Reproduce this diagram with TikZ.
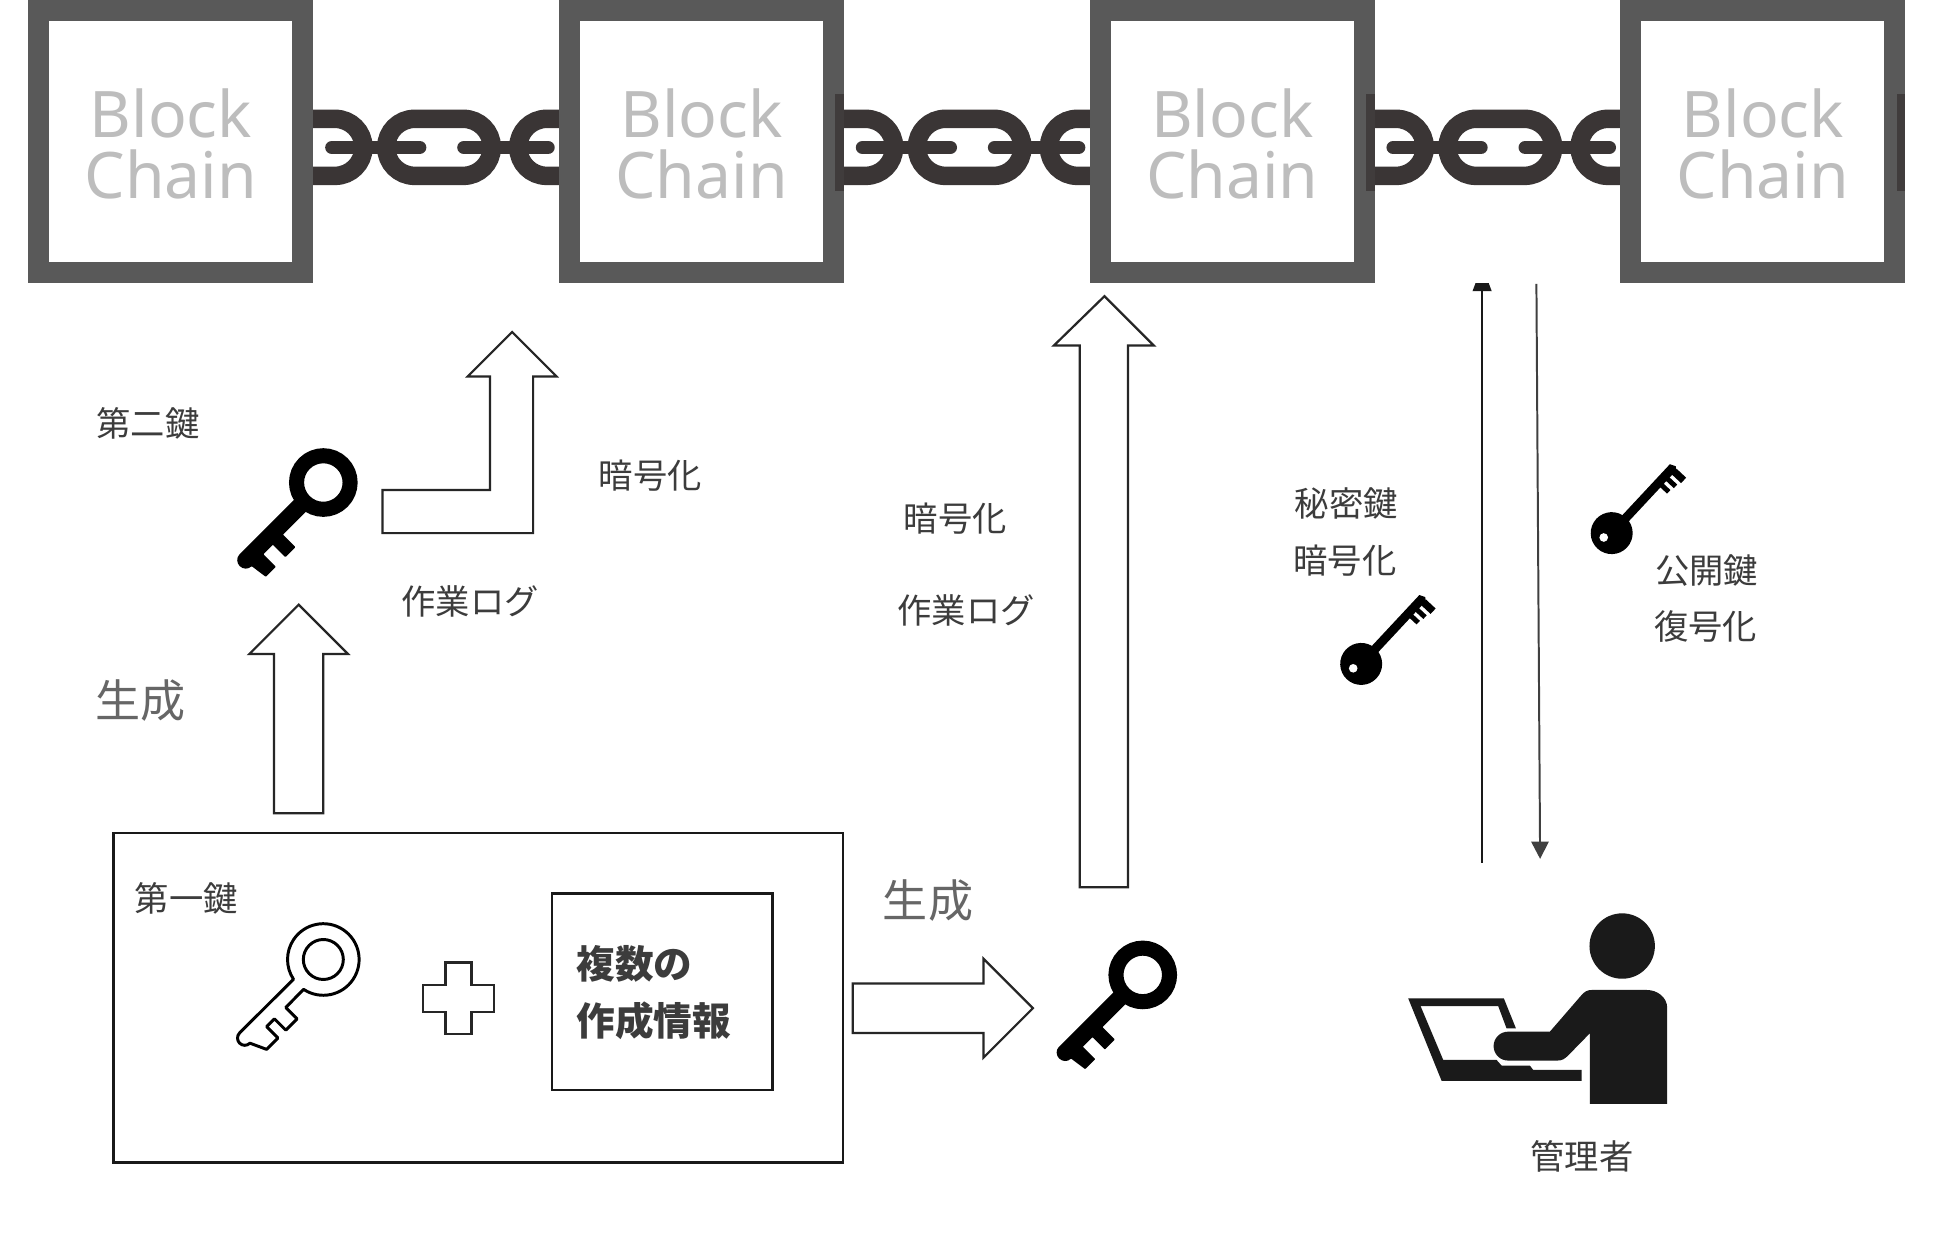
\documentclass[tikz,border=0pt]{standalone}
\usepackage{fontspec}
\setmainfont{Noto Sans}
\newfontfamily\cjk{Noto Sans CJK JP}
\usetikzlibrary{arrows.meta}
\definecolor{blockgray}{HTML}{595959}
\definecolor{chaindark}{HTML}{3A3535}
\definecolor{labeltxt}{HTML}{3C3C3C}
\definecolor{persondark}{HTML}{1A1A1A}
\newcommand{\blocktext}{\rule{0pt}{43.5pt}Block\\Chain}
\tikzset{
  blockbox/.style={draw=blockgray,line width=17pt,fill=white,minimum width=214pt,minimum height=212pt,inner sep=0pt,align=center,text=black!26,font=\fontsize{52}{49}\selectfont},
  lab/.style={inner sep=0pt,text=labeltxt,font=\cjk\fontsize{27.8}{28}\selectfont},
  biglab/.style={inner sep=0pt,text=black!60,font=\cjk\fontsize{36.5}{37}\selectfont},
  boldlab/.style={inner sep=0pt,text=labeltxt,font=\cjk\bfseries\fontsize{31.3}{32}\selectfont},
  hollow/.style={draw=black!85,line width=1.8pt,fill=white,line join=miter},
  framebox/.style={draw=black!90,line width=1.8pt,fill=white,inner sep=0pt},
  thinup/.style={draw=black!90,line width=2.2pt,-{Triangle[length=21pt,width=15pt]}},
  thindown/.style={draw=black!75,line width=1.6pt,-{Triangle[length=14pt,width=14pt]}},
  solidkey/.pic={
    \begin{scope}[y=1pt]
      \draw[black,line width=12.2pt] (0,0) circle[radius=21.7];
      \fill[black,rounded corners=0.5pt] (26,-6.8) -- (89,-6.8) arc[start angle=-90,end angle=90,radius=6.8]
        -- (87,21) -- (75.5,21) -- (75.5,6.8) -- (64.5,6.8) -- (64.5,21) -- (53,21) -- (53,6.8) -- (26,6.8) -- cycle;
    \end{scope}
  },
  outlinekey/.pic={
    \begin{scope}[y=1pt]
      \draw[black,line width=2.4pt,fill=white,line join=round] (11.5:29) arc[start angle=11.5,end angle=348.5,radius=29]
        -- (90,-5.9) arc[start angle=-90,end angle=90,radius=5.9]
        -- (84,19) -- (71,19) -- (71,6) -- (62,6) -- (62,19) -- (49,19) -- (49,6) -- cycle;
      \draw[black,line width=2.4pt] (0,0) circle[radius=16.2];
    \end{scope}
  },
  bowkey/.pic={
    \begin{scope}[y=1pt]
      \fill[black] (0,0) ellipse[x radius=17,y radius=17];
      \fill[black] (10,-3.6) -- (73,-3.6) -- (75,-1) -- (73,3.6) -- (10,3.6) -- cycle;
      \fill[black] (54,-3) rectangle (58,-11) (61,-3) rectangle (65,-12) (68,-3) rectangle (74,-13.5);
      \fill[white] (-7,2.3) circle[radius=3.5];
    \end{scope}
  }
}
\begin{document}
\begin{tikzpicture}[x=1pt,y=-1pt]
\useasboundingbox (0,0) rectangle (1568,1017);
\fill[white] (0,0) rectangle (1568,1017);
% chains
\foreach \dx in {0,430,860}{
  \begin{scope}[xshift=\dx pt]
    \clip (250,80) rectangle (456,160);
    \draw[chaindark,line width=15pt,rounded corners=23pt] (313,96.3) rectangle (398.5,142.5);
    \draw[chaindark,line width=15pt,rounded corners=23pt] (200,96.3) rectangle (294.5,142.5);
    \draw[chaindark,line width=15pt,rounded corners=23pt] (420,96.3) rectangle (515,142.5);
    \draw[chaindark,line width=11pt,line cap=round] (269,119.5) -- (340,119.5);
    \draw[chaindark,line width=11pt,line cap=round] (376,119.5) -- (444,119.5);
  \end{scope}
}
% blocks
\node[blockbox] (b1) at (138.5,114.5) {\blocktext};
\node[blockbox] (b2) at (568.5,114.5) {\blocktext};
\node[blockbox] (b3) at (998.5,114.5) {\blocktext};
\node[blockbox] (b4) at (1428.5,114.5) {\blocktext};
\foreach \sx in {677,1107,1537}{
  \fill[chaindark!80!blockgray] (\sx,76) rectangle (\sx+7,155);
}
% big arrows
\draw[hollow] (222,659) -- (222,530) -- (202,530) -- (242,490) -- (282,530) -- (262,530) -- (262,659) -- cycle;
\draw[hollow] (310,397) -- (397,397) -- (397,305) -- (379,305) -- (415,269) -- (451,305) -- (432,305) -- (432,432) -- (310,432) -- cycle;
\draw[hollow] (875,719) -- (875,280) -- (854,280) -- (895,240) -- (935,280) -- (914,280) -- (914,719) -- cycle;
\draw[hollow] (691,797) -- (797,797) -- (797,777) -- (837,817) -- (797,857) -- (797,837) -- (691,837) -- cycle;
% thin arrows
\coordinate (upA) at (1201,699);
\coordinate (upB) at (1201,215);
\coordinate (dnA) at (1245,230);
\coordinate (dnB) at (1248,696);
\begin{scope}
  \clip (1180,229.5) rectangle (1270,720);
  \draw[thinup] (upA) -- (upB);
  \draw[thindown] (dnA) -- (dnB);
\end{scope}
% frame
\node[framebox,minimum width=591pt,minimum height=267pt] (frame) at (387.5,808.5) {};
\node[framebox,minimum width=179pt,minimum height=159pt] (info) at (536.5,803.5) {};
% plus
\draw[hollow] (361,780) -- (382,780) -- (382,798) -- (400,798) -- (400,820) -- (382,820) -- (382,838) -- (361,838) -- (361,820) -- (343,820) -- (343,798) -- (361,798) -- cycle;
% keys
\pic[rotate=225] at (262,391) {solidkey};
\pic[rotate=225] at (926,790) {solidkey};
\pic[rotate=225] at (262,777.5) {outlinekey};
\pic[rotate=47] at (1306,432) {bowkey};
\pic[rotate=47] at (1103,538) {bowkey};
% person
\fill[persondark] (1314.5,766.6) circle[radius=26.5];
\fill[persondark] (1288.3,894.5) -- (1351,894.5) -- (1351,817) .. controls (1351,808) and (1343,802.2) .. (1334.2,802.2) -- (1290,802.2) .. controls (1286,802.2) and (1284,803.5) .. (1281,807) -- (1255.9,836) -- (1222,836) arc[start angle=-90,end angle=-270,radius=11.7] -- (1262,859.4) .. controls (1266,859.4) and (1268,858) .. (1271,855) -- (1288.3,837.3) -- cycle;
\fill[persondark] (1141.1,809) -- (1218.6,809) -- (1228.4,833.3) -- (1220.8,833.3) -- (1214,815.2) -- (1151.1,815.2) -- (1169.5,858.9) -- (1212.7,858.9) -- (1216.8,863.5) -- (1239.7,863.5) -- (1242.4,867) -- (1281.6,867) -- (1281.6,875.9) -- (1168.2,875.9) -- cycle;
% labels
\node[lab] (t1) at (120,343) {第二鍵};
\node[lab] (t2) at (527,385) {暗号化};
\node[lab] (t3) at (381,487) {作業ログ};
\node[biglab] (t4) at (114,568) {生成};
\node[lab] (t5) at (151,728) {第一鍵};
\node[biglab] (t6) at (752,730) {生成};
\node[lab] (t7) at (774,420) {暗号化};
\node[lab] (t8) at (783,495) {作業ログ};
\node[lab] (t9) at (1091,408) {秘密鍵};
\node[lab] (t10) at (1090,454) {暗号化};
\node[lab] (t11) at (1383,462) {公開鍵};
\node[lab] (t12) at (1382,508) {復号化};
\node[lab] (t13) at (1282,937) {管理者};
\node[boldlab,anchor=west] (t14) at (467,781) {複数の};
\node[boldlab,anchor=west] (t15) at (467,827) {作成情報};
\end{tikzpicture}
\end{document}
